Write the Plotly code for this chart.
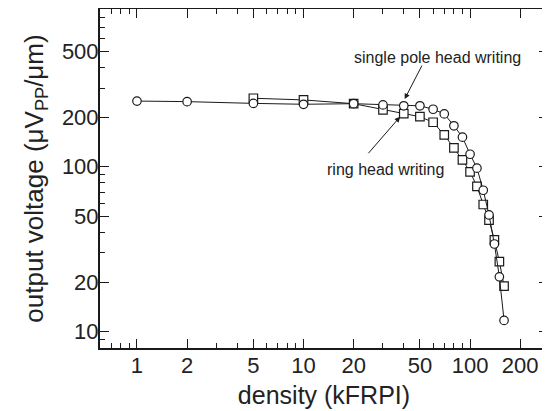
import math
import plotly.graph_objects as go

# ---- data ----
density_single = [1, 2, 5, 10, 20, 30, 40, 50, 60, 70, 80, 90, 100, 110, 120, 130, 140, 150, 160]
voltage_single = [250, 248, 242, 239, 241, 237, 234, 234, 223, 209, 177, 151, 119, 98, 72, 51, 34, 21.5, 11.7]

density_ring = [5, 10, 20, 30, 40, 50, 60, 70, 80, 90, 100, 110, 120, 130, 140, 150, 160]
voltage_ring = [260, 254, 241, 221, 210, 201, 186, 156, 130, 110, 93, 76, 59, 47.5, 36, 26.6, 18.9]

x_major = [1, 2, 5, 10, 20, 50, 100, 200]
x_minor = [0.7, 0.8, 0.9, 3, 4, 6, 7, 8, 9, 30, 40, 60, 70, 80, 90]
y_major = [10, 20, 50, 100, 200, 500]
y_minor = [9, 30, 40, 60, 70, 80, 90, 300, 400, 600, 700, 800, 900]

label_single = "single pole head writing"
label_ring = "ring head writing"

FONT = "Liberation Sans, Arial, Helvetica, sans-serif"
INK = "#1a1a1a"

fig = go.Figure()
fig.add_trace(go.Scatter(
    x=density_ring, y=voltage_ring, mode="lines+markers",
    line=dict(color=INK, width=1),
    marker=dict(symbol="square", size=8.5, color="white", line=dict(color=INK, width=1.2)),
    showlegend=False,
))
fig.add_trace(go.Scatter(
    x=density_single, y=voltage_single, mode="lines+markers",
    line=dict(color=INK, width=1),
    marker=dict(symbol="circle", size=8.5, color="white", line=dict(color=INK, width=1.2)),
    showlegend=False,
))

axis_common = dict(
    type="log", showgrid=False, zeroline=False, automargin=False,
    showline=True, linecolor=INK, linewidth=2, mirror="ticks",
    ticks="inside", ticklen=9, tickwidth=1.2, tickcolor=INK,
    tickfont=dict(family=FONT, size=22, color="#222"),
)

fig.update_xaxes(
    **axis_common,
    range=[-0.222, 2.468],
    tickmode="array", tickvals=x_major, ticktext=[str(v) for v in x_major],
    minor=dict(tickmode="array", tickvals=x_minor, ticks="inside", ticklen=5, tickcolor=INK, tickwidth=1),
    ticklabelstandoff=-3,
    title=dict(text="density (kFRPI)", font=dict(family=FONT, size=25, color="#222"), standoff=9),
)
fig.update_yaxes(
    **axis_common,
    range=[0.901, 2.956],
    tickmode="array", tickvals=y_major, ticktext=[str(v) for v in y_major],
    minor=dict(tickmode="array", tickvals=y_minor, ticks="inside", ticklen=5, tickcolor=INK, tickwidth=1),
    ticklabelstandoff=-5,
    title=dict(text="output voltage (μV<sub>PP</sub>/μm)", font=dict(family=FONT, size=26, color="#222"), standoff=11),
)

# text labels (log-axis annotations use log10 coordinates)
fig.add_annotation(x=math.log10(63.4), y=math.log10(462), xref="x", yref="y", text=label_single,
                   showarrow=False, font=dict(family=FONT, size=16, color="#222"))
fig.add_annotation(x=math.log10(30.9), y=math.log10(96.8), xref="x", yref="y", text=label_ring,
                   showarrow=False, font=dict(family=FONT, size=16, color="#222"))
# arrows
fig.add_annotation(x=math.log10(40.5), y=2.41, xref="x", yref="y", text="", showarrow=True,
                   ax=18, ay=-35, arrowhead=2, arrowsize=1.1, arrowwidth=1, arrowcolor=INK)
fig.add_annotation(x=1.580, y=2.303, xref="x", yref="y", text="", showarrow=True,
                   ax=-33, ay=38, arrowhead=2, arrowsize=1.1, arrowwidth=1, arrowcolor=INK)

# the page body adds an 8px offset, so the figure is sized to fit the window with it
fig.update_layout(
    width=542, height=403,
    margin=dict(l=92, r=2, t=1, b=63),
    paper_bgcolor="white", plot_bgcolor="white",
    font=dict(family=FONT, color="#222"),
)

fig.write_html("out.html")
